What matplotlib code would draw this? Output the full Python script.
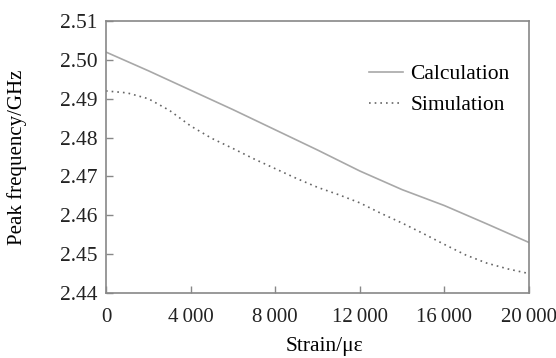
import matplotlib
matplotlib.use("Agg")
import matplotlib.pyplot as plt

strain_calc = [0, 2000, 4000, 6000, 8000, 10000, 12000, 14000, 16000, 18000, 20000]
freq_calc = [2.5020, 2.4972, 2.4922, 2.4872, 2.4820, 2.4768, 2.4714, 2.4666, 2.4625, 2.4578, 2.4530]

strain_sim = [0, 1000, 2000, 2500, 3000, 4000, 5000, 6000, 7000, 8000, 9000, 10000,
              11000, 12000, 13000, 14000, 15000, 16000, 17000, 18000, 19000, 20000]
freq_sim = [2.4920, 2.4915, 2.4900, 2.4885, 2.4870, 2.4830, 2.4798, 2.4772, 2.4745, 2.4720,
            2.4695, 2.4672, 2.4653, 2.4632, 2.4605, 2.4580, 2.4553, 2.4525, 2.4498, 2.4477,
            2.4462, 2.4450]

xticks = [0, 4000, 8000, 12000, 16000, 20000]
xticklabels = ["0", "4\u2009000", "8\u2009000", "12\u2009000", "16\u2009000", "20\u2009000"]
yticks = [2.44, 2.45, 2.46, 2.47, 2.48, 2.49, 2.50, 2.51]
yticklabels = ["2.44", "2.45", "2.46", "2.47", "2.48", "2.49", "2.50", "2.51"]

plt.rcParams['font.family'] = ['Liberation Serif', 'DejaVu Serif']
fs = 15.5

fig = plt.figure(figsize=(5.56, 3.58), dpi=100)
ax = fig.add_axes([106/556, 1 - 293/358, (529-106)/556, (293-21)/358])

ax.plot(strain_calc, freq_calc, color='#a8a8a8', lw=1.2, label='Calculation')
ax.plot(strain_sim, freq_sim, color='#666666', lw=1.2, ls=(0, (1.0, 2.4)), label='Simulation')

ax.set_xlim(0, 20000)
ax.set_ylim(2.44, 2.51)
ax.set_xticks(xticks)
ax.set_xticklabels(xticklabels, fontsize=15)
ax.set_yticks(yticks)
ax.set_yticklabels(yticklabels, fontsize=fs)
ax.tick_params(direction='in', length=5, width=1, color='#888888', labelcolor='#222222')
ax.tick_params(axis='x', pad=11)
ax.tick_params(axis='y', pad=6)
for s in ax.spines.values():
    s.set_color('#888888')
    s.set_linewidth(1.2)

ax.set_xlabel('Strain/με', fontsize=fs)
ax.xaxis.set_label_coords((324 - 106) / 423, -(347 - 293) / 272)
ax.xaxis.label.set_va('center')
ax.set_ylabel('Peak frequency/GHz', fontsize=fs - 0.5, labelpad=24)

leg = ax.legend(loc='upper right', bbox_to_anchor=(0.98, 0.88), frameon=False,
                fontsize=fs, handlelength=1.6, handletextpad=0.35, labelspacing=0.5,
                borderpad=0)

fig.savefig('out.png', dpi=100)
